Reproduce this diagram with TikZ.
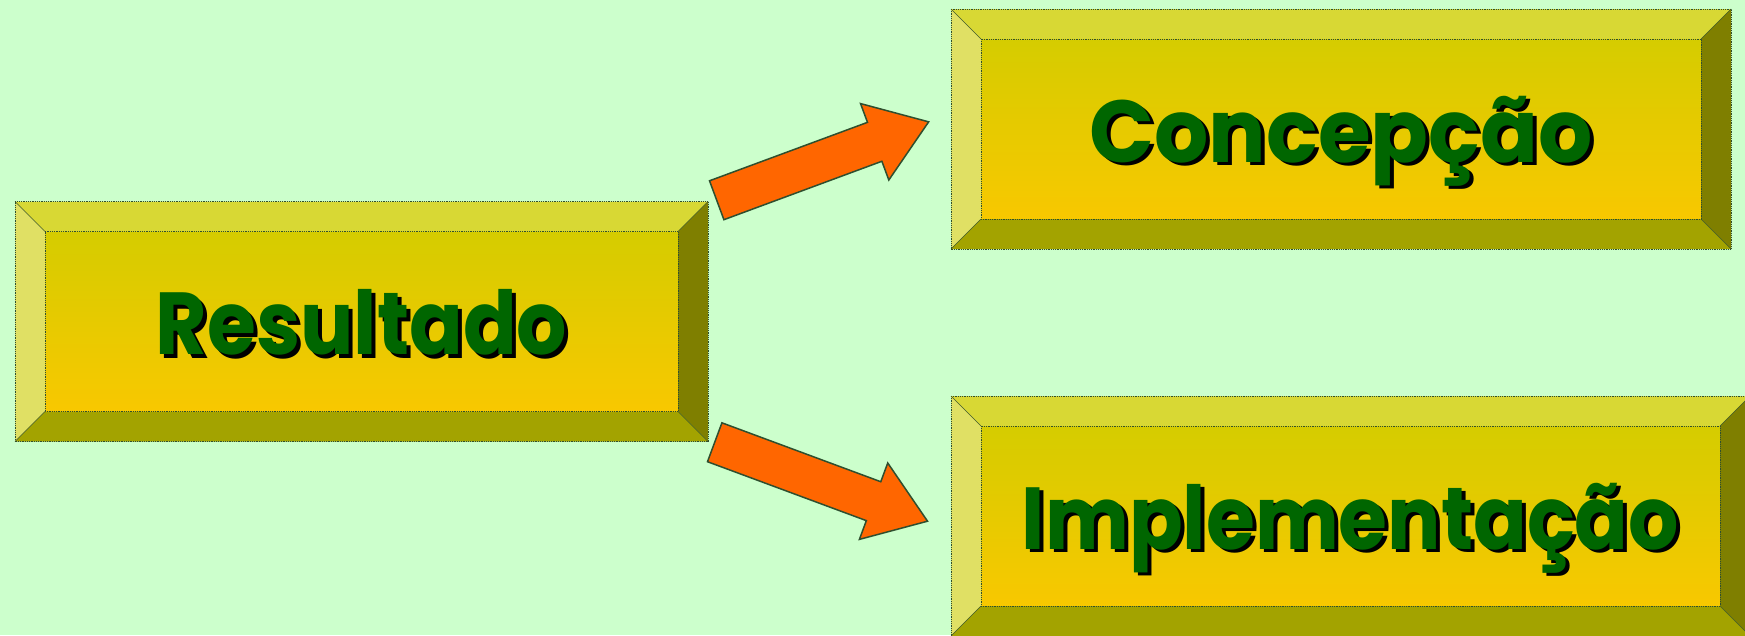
\documentclass[tikz,border=0pt]{standalone}
\usepackage{fontspec}
\setmainfont{Poppins}
\usetikzlibrary{shapes.arrows,calc}
\definecolor{fundo}{HTML}{CCFFCC}
\definecolor{bcima}{HTML}{D8D834}
\definecolor{besq}{HTML}{E0E064}
\definecolor{bdir}{HTML}{7F7F00}
\definecolor{bbaixo}{HTML}{A3A300}
\definecolor{mtopo}{HTML}{D5CC00}
\definecolor{mbase}{HTML}{F8C800}
\definecolor{verde}{HTML}{006600}
\definecolor{borda}{HTML}{2F4F2F}
\definecolor{laranja}{HTML}{FF6600}
\newcommand{\Bloco}[6][0.9]{
    \node[miolo, minimum width=#4, minimum height=#5] (#2) at #3 {};
    \coordinate (#2-a) at ($(#2.north west)+(-30,-30)$);
    \coordinate (#2-b) at ($(#2.north east)+(30,-30)$);
    \coordinate (#2-c) at ($(#2.south east)+(30,30)$);
    \coordinate (#2-d) at ($(#2.south west)+(-30,30)$);
    \fill[bcima] (#2-a) -- (#2-b) -- (#2.north east) -- (#2.north west) -- cycle;
    \fill[besq] (#2-a) -- (#2.north west) -- (#2.south west) -- (#2-d) -- cycle;
    \fill[bdir] (#2-b) -- (#2-c) -- (#2.south east) -- (#2.north east) -- cycle;
    \fill[bbaixo] (#2-d) -- (#2.south west) -- (#2.south east) -- (#2-c) -- cycle;
    \draw[contorno] (#2-a) rectangle (#2-c);
    \draw[contorno] (#2.north west) rectangle (#2.south east);
    \draw[diagonal] (#2-a) -- (#2.north west) (#2-b) -- (#2.north east)
        (#2-c) -- (#2.south east) (#2-d) -- (#2.south west);
    \node[rotulo, text=black] (#2-sombra) at ($(#2.center)+(4,36.5)$) {\scalebox{#1}[1]{#6}};
    \node[rotulo, text=verde] (#2-texto) at ($(#2.center)+(0,33)$) {\scalebox{#1}[1]{#6}};
}

\begin{document}
\begin{tikzpicture}[x=1pt, y=-1pt,
    miolo/.style={rectangle, inner sep=0pt, outer sep=0pt, top color=mtopo, bottom color=mbase},
    contorno/.style={draw=borda, densely dotted, line width=0.8pt},
    diagonal/.style={draw=borda!80!bdir, line width=0.6pt},
    rotulo/.style={anchor=base, inner sep=0pt, font=\fontsize{88}{100}\selectfont\bfseries},
    seta/.style={single arrow, draw=borda, fill=laranja, line width=1.5pt, inner xsep=0pt,
        inner ysep=20pt, single arrow head extend=20pt, single arrow tip angle=70.6,
        anchor=tail}]

    \useasboundingbox (0,0) rectangle (1745,635);
    \fill[fundo] (0,0) rectangle (1745,635);

    \Bloco{resultado}{(361.5,321.5)}{633pt}{180pt}{Resultado}
    \Bloco[0.97]{concepcao}{(1341,129)}{720pt}{180pt}{Concepção}
    \Bloco{implementacao}{(1350.5,516)}{739pt}{180pt}{Implementação}

    \draw(716,200.5) node[seta, rotate=20.3, minimum height=226pt] (seta-cima) {};
    \draw(714,442) node[seta, rotate=-20.35, minimum height=227pt] (seta-baixo) {};

\end{tikzpicture}
\end{document}
